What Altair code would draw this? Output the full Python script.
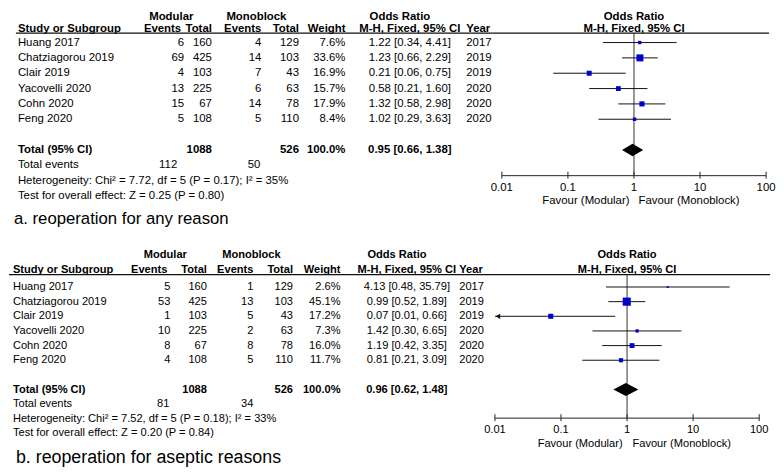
import altair as alt
import pandas as pd

# ---------------- data ----------------
studies = ["Huang 2017", "Chatziagorou 2019", "Clair 2019", "Yacovelli 2020", "Cohn 2020", "Feng 2020"]
years = [2017, 2019, 2019, 2020, 2020, 2020]
mod_total = [160, 425, 103, 225, 67, 108]
mono_total = [129, 103, 43, 63, 78, 110]

a_mod_events = [6, 69, 4, 13, 15, 5]
a_mono_events = [4, 14, 7, 6, 14, 5]
a_weight = [7.6, 33.6, 16.9, 15.7, 17.9, 8.4]
a_or = [1.22, 1.23, 0.21, 0.58, 1.32, 1.02]
a_lo = [0.34, 0.66, 0.06, 0.21, 0.58, 0.29]
a_hi = [4.41, 2.29, 0.75, 1.60, 2.98, 3.63]
a_pooled = [0.95, 0.66, 1.38]
a_total_events = [112, 50]
a_het = "Heterogeneity: Chi² = 7.72, df = 5 (P = 0.17); I² = 35%"
a_test = "Test for overall effect: Z = 0.25 (P = 0.80)"
a_caption = "a. reoperation for any reason"

b_mod_events = [5, 53, 1, 10, 8, 4]
b_mono_events = [1, 13, 5, 2, 8, 5]
b_weight = [2.6, 45.1, 17.2, 7.3, 16.0, 11.7]
b_or = [4.13, 0.99, 0.07, 1.42, 1.19, 0.81]
b_lo = [0.48, 0.52, 0.01, 0.30, 0.42, 0.21]
b_hi = [35.79, 1.89, 0.66, 6.65, 3.35, 3.09]
b_pooled = [0.96, 0.62, 1.48]
b_total_events = [81, 34]
b_het = "Heterogeneity: Chi² = 7.52, df = 5 (P = 0.18); I² = 33%"
b_test = "Test for overall effect: Z = 0.20 (P = 0.84)"
b_caption = "b. reoperation for aseptic reasons"

grand_totals = [1088, 526]
ticks = [0.01, 0.1, 1, 10, 100]
tick_labels = ["0.01", "0.1", "1", "10", "100"]

FONT = "Liberation Sans"
BLUE = "#0000CC"


def panel(mod_ev, mono_ev, weight, orv, lo, hi, pooled, tot_ev, het, test, caption, L):
    fs = L["fs"]
    n = len(studies)
    rows = list(range(n))
    total_row, te_row, het_row, test_row = n + 1, n + 2, n + 3, n + 4
    yscale = alt.Scale(domain=[0, test_row], range=[L["y0"], L["y0"] + test_row * L["s"]],
                       zero=False, nice=False)
    xscale = alt.Scale(type="log", domain=[0.01, 100], range=[L["fx0"], L["fx1"]])
    Y = alt.Y("row:Q", scale=yscale, axis=None)

    df = pd.DataFrame({
        "row": rows, "study": studies,
        "me": [str(v) for v in mod_ev], "mt": [str(v) for v in mod_total],
        "oe": [str(v) for v in mono_ev], "ot": [str(v) for v in mono_total],
        "w": [f"{v:.1f}%" for v in weight],
        "ci": [f"{o:.2f} [{a:.2f}, {b:.2f}]" for o, a, b in zip(orv, lo, hi)],
        "yr": [str(v) for v in years],
        "or": orv, "lo": lo, "hi": hi, "weight": weight,
    })
    df["lo_c"] = df["lo"].clip(lower=0.01)

    def text_layer(data, field, x, align, bold=False, size=None, y=None):
        ch = alt.Chart(data).mark_text(
            align=align, baseline="middle", font=FONT, fontSize=size or fs,
            fontWeight="bold" if bold else "normal", color="black")
        enc = dict(x=alt.value(x), text=f"{field}:N")
        enc["y"] = alt.value(y) if y is not None else Y
        return ch.encode(**enc)

    layers = []
    for field, x, align in [("study", L["study_x"], "left"), ("me", L["me_x"], "right"),
                            ("mt", L["mt_x"], "right"), ("oe", L["oe_x"], "right"),
                            ("ot", L["ot_x"], "right"), ("w", L["w_x"], "right"),
                            ("ci", L["or_x"], "center"), ("yr", L["yr_x"], "left")]:
        layers.append(text_layer(df, field, x, align))

    tot = pd.DataFrame({
        "row": [total_row], "lab": ["Total (95% CI)"], "mt": [str(grand_totals[0])],
        "ot": [str(grand_totals[1])], "w": ["100.0%"],
        "ci": [f"{pooled[0]:.2f} [{pooled[1]:.2f}, {pooled[2]:.2f}]"]})
    for field, x, align in [("lab", L["study_x"], "left"), ("mt", L["mt_x"], "right"),
                            ("ot", L["ot_x"], "right"), ("w", L["w_x"], "right"),
                            ("ci", L["or_x"], "center")]:
        layers.append(text_layer(tot, field, x, align, bold=True))
    te = pd.DataFrame({"row": [te_row], "lab": ["Total events"], "a": [str(tot_ev[0])],
                       "b": [str(tot_ev[1])]})
    layers.append(text_layer(te, "lab", L["study_x"], "left"))
    layers.append(text_layer(te, "a", L["te_me_x"], "right"))
    layers.append(text_layer(te, "b", L["te_oe_x"], "right"))
    notes = pd.DataFrame({"row": [het_row, test_row], "lab": [het, test]})
    layers.append(text_layer(notes, "lab", L["study_x"], "left"))

    hd = pd.DataFrame({"h": ["x"]})

    def hdr(label, x, align, y):
        return alt.Chart(pd.DataFrame({"lab": [label]})).mark_text(
            align=align, baseline="middle", font=FONT, fontSize=fs, fontWeight="bold",
            color="black").encode(x=alt.value(x), y=alt.value(y), text="lab:N")
    h1, h2 = L["hdr1"], L["hdr2"]
    layers += [
        hdr("Modular", L["modular_x"], "center", h1),
        hdr("Monoblock", L["mono_x"], "center", h1),
        hdr("Odds Ratio", L["orhdr_x"], "center", h1),
        hdr("Study or Subgroup", L["study_x"], "left", h2),
        hdr("Events", L["me_x"] - 3, "right", h2),
        hdr("Total", L["mt_x"], "right", h2),
        hdr("Events", L["oe_x"], "right", h2),
        hdr("Total", L["ot_x"], "right", h2),
        hdr("Weight", L["w_x"], "right", h2),
        hdr("M-H, Fixed, 95% CI", L["or_x"], "center", h2),
        hdr("Year", L["yr_x"], "left", h2),
    ]
    one = pd.DataFrame({"v": [1.0]})
    for lab, y in [("Odds Ratio", h1), ("M-H, Fixed, 95% CI", h2)]:
        layers.append(alt.Chart(one.assign(lab=lab)).mark_text(
            align="center", baseline="middle", font=FONT, fontSize=fs, fontWeight="bold",
            color="black").encode(x=alt.X("v:Q", scale=xscale, axis=None),
                                  y=alt.value(y), text="lab:N"))

    layers.append(alt.Chart(hd).mark_rule(color="#111", strokeWidth=1.2).encode(
        x=alt.value(L["line_x0"]), x2=alt.value(L["line_x1"]), y=alt.value(L["line_y"])))

    layers.append(alt.Chart(one).mark_rule(color="#333", strokeWidth=1).encode(
        x=alt.X("v:Q", scale=xscale, axis=None), y=alt.value(L["line_y"]),
        y2=alt.value(L["axis_y"])))

    ax = pd.DataFrame({"a": [ticks[0]], "b": [ticks[-1]]})
    layers.append(alt.Chart(ax).mark_rule(color="#222", strokeWidth=1).encode(
        x=alt.X("a:Q", scale=xscale, axis=None), x2="b:Q", y=alt.value(L["axis_y"])))
    tk = pd.DataFrame({"t": ticks, "lab": tick_labels})
    layers.append(alt.Chart(tk).mark_rule(color="#222", strokeWidth=1).encode(
        x=alt.X("t:Q", scale=xscale, axis=None), y=alt.value(L["axis_y"] - 4),
        y2=alt.value(L["axis_y"] + 3)))
    layers.append(alt.Chart(tk).mark_text(
        align="center", baseline="middle", font=FONT, fontSize=fs, color="black").encode(
        x=alt.X("t:Q", scale=xscale, axis=None), y=alt.value(L["tick_lab_y"]), text="lab:N"))
    layers.append(alt.Chart(pd.DataFrame({"lab": ["Favour (Modular)"]})).mark_text(
        align="right", baseline="middle", font=FONT, fontSize=fs, color="black").encode(
        x=alt.value(L["favL_x"]), y=alt.value(L["fav_y"]), text="lab:N"))
    layers.append(alt.Chart(pd.DataFrame({"lab": ["Favour (Monoblock)"]})).mark_text(
        align="left", baseline="middle", font=FONT, fontSize=fs, color="black").encode(
        x=alt.value(L["favR_x"]), y=alt.value(L["fav_y"]), text="lab:N"))

    layers.append(alt.Chart(df).mark_rule(color="#111", strokeWidth=1).encode(
        x=alt.X("lo_c:Q", scale=xscale, axis=None), x2="hi:Q", y=Y))
    arrows = df[df["lo"] <= 0.01]
    if len(arrows):
        layers.append(alt.Chart(arrows).mark_point(
            shape="triangle-left", filled=True, color="#111", size=28, opacity=1,
            xOffset=3).encode(x=alt.X("lo_c:Q", scale=xscale, axis=None), y=Y))
    layers.append(alt.Chart(df).mark_square(color=BLUE, opacity=1).encode(
        x=alt.X("or:Q", scale=xscale, axis=None), y=Y,
        size=alt.Size("weight:Q", scale=alt.Scale(domain=[0, 100], range=[0, 150]),
                      legend=None)))

    h = L["dh"] / L["s"]
    dm = pd.DataFrame({"x": [pooled[1], pooled[0], pooled[2]],
                       "y1": [total_row, total_row - h, total_row],
                       "y2": [total_row, total_row + h, total_row]})
    layers.append(alt.Chart(dm).mark_area(color="black", orient="vertical", opacity=1).encode(
        x=alt.X("x:Q", scale=xscale, axis=None),
        y=alt.Y("y1:Q", scale=yscale, axis=None), y2="y2:Q"))

    layers.append(alt.Chart(pd.DataFrame({"lab": [caption]})).mark_text(
        align="left", baseline="middle", font=FONT, fontSize=L["cap_fs"], color="black").encode(
        x=alt.value(L["cap_x"]), y=alt.value(L["cap_y"]), text="lab:N"))

    return alt.layer(*layers).properties(width=768, height=L["height"])


LA = dict(hdr1=4.5, hdr2=16.5, line_y=21, line_x0=7, line_x1=768, y0=30.5, s=15.5,
          study_x=9, me_x=177, mt_x=205, oe_x=255, ot_x=293, w_x=340, or_x=405, yr_x=462,
          modular_x=164, mono_x=250, orhdr_x=395, te_me_x=170, te_oe_x=254,
          fx0=498, fx1=765, axis_y=165, tick_lab_y=177, fav_y=191, favL_x=627, favR_x=636,
          cap_y=209, cap_x=5, fs=11.5, cap_fs=16.9, height=238, dh=6.3)
LB = dict(hdr1=7, hdr2=22, line_y=27, line_x0=0, line_x1=769, y0=39.5, s=14.8,
          study_x=4, me_x=163, mt_x=200, oe_x=247, ot_x=287, w_x=335, or_x=402, yr_x=455,
          modular_x=158, mono_x=245, orhdr_x=392, te_me_x=162, te_oe_x=247,
          fx0=491, fx1=758, axis_y=172, tick_lab_y=184, fav_y=198, favL_x=620, favR_x=630,
          cap_y=212, cap_x=7, fs=11.2, cap_fs=18, height=222, dh=6.5)

pa = panel(a_mod_events, a_mono_events, a_weight, a_or, a_lo, a_hi, a_pooled,
           a_total_events, a_het, a_test, a_caption, LA)
pb = panel(b_mod_events, b_mono_events, b_weight, b_or, b_lo, b_hi, b_pooled,
           b_total_events, b_het, b_test, b_caption, LB)

chart = alt.vconcat(pa, pb, spacing=0).properties(padding=0, background="white") \
    .configure_view(stroke=None)

chart.save("out.html", embed_options={"renderer": "svg", "actions": False})
